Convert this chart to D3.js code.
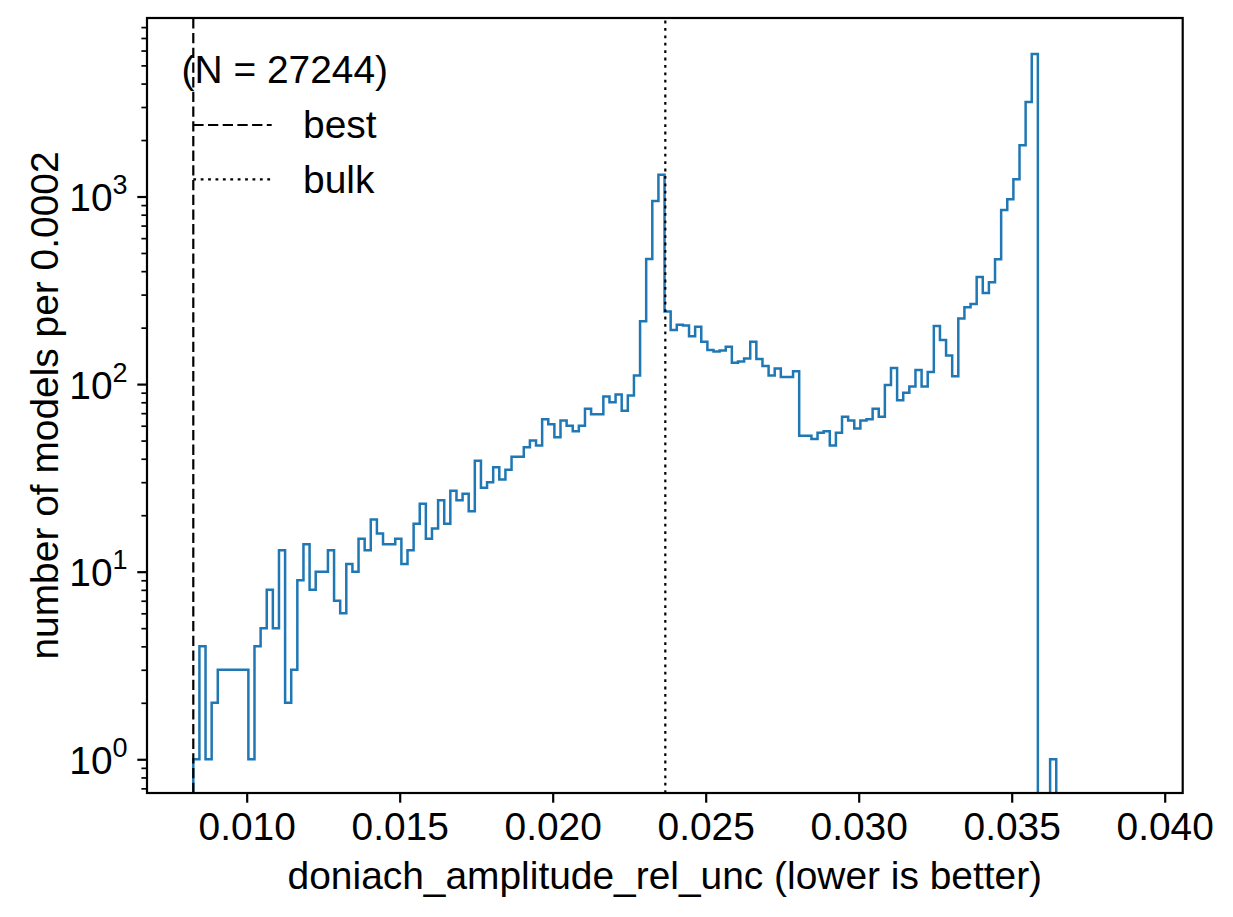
<!DOCTYPE html>
<html>
<head>
<meta charset="utf-8">
<script src="https://cdn.jsdelivr.net/npm/d3@7"></script>
<style>
  html, body { margin: 0; padding: 0; background: #fff; }
  svg { display: block; }
  text { font-family: "Liberation Sans", Arial, Helvetica, sans-serif; fill: #000; }
</style>
</head>
<body>
<svg id="chart" width="1233" height="917"></svg>
<script>
// ---------------- data ----------------
const binStart = 0.008255;   // left edge of first bin
const binWidth = 0.0002;     // "per 0.0002"
const counts = [
  1, 4, 1, 2, 3, 3, 3, 3, 3, 1,
  4, 5, 8, 5, 13, 2, 3, 9, 14, 8,
  10, 10, 13, 7, 6, 11, 10, 15, 13, 19,
  16, 14, 14, 15, 11, 13, 18, 23, 15, 17,
  24, 18, 27, 24, 26, 21, 39, 28, 30, 36,
  31, 35, 41, 41, 46, 50, 47, 65, 61, 52,
  64, 60, 56, 60, 74, 69, 69, 86, 80, 88,
  72, 87, 111, 216, 464, 946, 1307, 244, 194, 207,
  205, 180, 202, 168, 152, 149, 151, 158, 130, 132,
  137, 168, 136, 125, 111, 121, 109, 109, 117, 53,
  53, 51, 55, 56, 47, 55, 67, 64, 58, 64,
  65, 74, 67, 99, 122, 82, 90, 97, 119, 97,
  116, 204, 172, 142, 110, 224, 257, 267, 372, 306,
  349, 463, 848, 966, 1235, 1875, 3190, 5750, 0, 0,
  1, 0, 0, 0, 0, 0, 0, 0, 0, 0,
  0, 0, 0, 0
];
const xTickValues = [0.010, 0.015, 0.020, 0.025, 0.030, 0.035, 0.040];
const yMajorTicks = [1, 10, 100, 1000];
const yMinorTicks = [0.7, 0.8, 0.9, 2, 3, 4, 5, 6, 7, 8, 9, 20, 30, 40, 50, 60, 70, 80, 90,
                     200, 300, 400, 500, 600, 700, 800, 900, 2000, 3000, 4000, 5000, 6000, 7000, 8000];
const bestValue = 0.008255;
const bulkValue = 0.02368;
const legendTitle = "(N = 27244)";
const legendLabels = ["best", "bulk"];
const xLabel = "doniach_amplitude_rel_unc (lower is better)";
const yLabel = "number of models per 0.0002";

// ---------------- layout ----------------
const plot = { left: 147, right: 1182.7, top: 18, bottom: 793 };
const FS = 38.9;
const color = "#1f77b4";

const svg = d3.select("#chart");
const x = d3.scaleLinear().domain([0.006742, 0.040588]).range([plot.left, plot.right]);
const y = d3.scaleLog().domain([0.661, 8946]).range([plot.bottom, plot.top]);

svg.append("defs").append("clipPath").attr("id", "clip")
  .append("rect").attr("x", plot.left).attr("y", plot.top)
  .attr("width", plot.right - plot.left).attr("height", plot.bottom - plot.top);

// ---------------- histogram step ----------------
const floorVal = 1e-3;
const pts = [];
pts.push([binStart, floorVal]);
counts.forEach((c, i) => {
  const v = c > 0 ? c : floorVal;
  pts.push([binStart + i * binWidth, v]);
  pts.push([binStart + (i + 1) * binWidth, v]);
});
pts.push([binStart + counts.length * binWidth, floorVal]);

const line = d3.line().x(d => x(d[0])).y(d => y(d[1]));
svg.append("path")
  .attr("clip-path", "url(#clip)")
  .attr("d", line(pts))
  .attr("fill", "none")
  .attr("stroke", color)
  .attr("stroke-width", 2.5)
  .attr("stroke-linejoin", "miter");

// ---------------- vertical lines ----------------
svg.append("line")
  .attr("x1", x(bestValue)).attr("x2", x(bestValue))
  .attr("y1", plot.bottom).attr("y2", plot.top)
  .attr("stroke", "#000").attr("stroke-width", 2.2)
  .attr("stroke-dasharray", "10.3,4.4");
svg.append("line")
  .attr("x1", x(bulkValue)).attr("x2", x(bulkValue))
  .attr("y1", plot.bottom).attr("y2", plot.top)
  .attr("stroke", "#000").attr("stroke-width", 2.2)
  .attr("stroke-dasharray", "2.8,4.6");

// ---------------- axes ----------------
const xAxis = d3.axisBottom(x).tickValues(xTickValues).tickFormat(d3.format(".3f"))
  .tickSize(9.7).tickPadding(9.7);
const gx = svg.append("g").attr("transform", `translate(0,${plot.bottom})`).call(xAxis);
gx.select(".domain").remove();
gx.selectAll(".tick line").attr("stroke-width", 2.2);
gx.selectAll(".tick text").style("font-size", FS + "px")
  .style("font-family", '"Liberation Sans", Arial, sans-serif');

const yMinor = d3.axisLeft(y).tickValues(yMinorTicks).tickFormat("").tickSize(5.6);
const gym = svg.append("g").attr("transform", `translate(${plot.left},0)`).call(yMinor);
gym.select(".domain").remove();
gym.selectAll(".tick line").attr("stroke-width", 1.7);

const yMajor = d3.axisLeft(y).tickValues(yMajorTicks).tickFormat("").tickSize(9.7);
const gy = svg.append("g").attr("transform", `translate(${plot.left},0)`).call(yMajor);
gy.select(".domain").remove();
gy.selectAll(".tick line").attr("stroke-width", 2.2);
gy.selectAll(".tick").each(function(d) {
  const t = d3.select(this).append("text")
    .attr("x", -19.4).attr("y", 14)
    .attr("text-anchor", "end")
    .style("font-size", FS + "px")
    .style("font-family", '"Liberation Sans", Arial, sans-serif')
    .attr("fill", "#000");
  t.append("tspan").text("10");
  t.append("tspan").attr("dy", -17).style("font-size", "27px").text(String(Math.round(Math.log10(d))));
});

// frame (spines)
svg.append("rect")
  .attr("x", plot.left).attr("y", plot.top)
  .attr("width", plot.right - plot.left).attr("height", plot.bottom - plot.top)
  .attr("fill", "none").attr("stroke", "#000").attr("stroke-width", 2.2);

// ---------------- labels ----------------
svg.append("text")
  .attr("x", (plot.left + plot.right) / 2).attr("y", 889)
  .attr("text-anchor", "middle").style("font-size", FS + "px")
  .text(xLabel);
svg.append("text")
  .attr("transform", `translate(58,${(plot.top + plot.bottom) / 2}) rotate(-90)`)
  .attr("text-anchor", "middle").style("font-size", FS + "px")
  .text(yLabel);

// ---------------- legend ----------------
const legX = x(bestValue);
const handleLen = 78.4;
const lg = svg.append("g");
lg.append("text").attr("x", 284.8).attr("y", 83.3)
  .attr("text-anchor", "middle").style("font-size", FS + "px").text(legendTitle);
const dashes = ["10.3,4.4", "2.8,4.6"];
legendLabels.forEach((lab, i) => {
  const cy = 125 + i * 54.4;
  lg.append("line").attr("x1", legX).attr("x2", legX + handleLen)
    .attr("y1", cy).attr("y2", cy)
    .attr("stroke", "#000").attr("stroke-width", 2.2)
    .attr("stroke-dasharray", dashes[i]);
  lg.append("text").attr("x", 303).attr("y", cy + 13.3)
    .style("font-size", FS + "px").text(lab);
});
</script>
</body>
</html>
